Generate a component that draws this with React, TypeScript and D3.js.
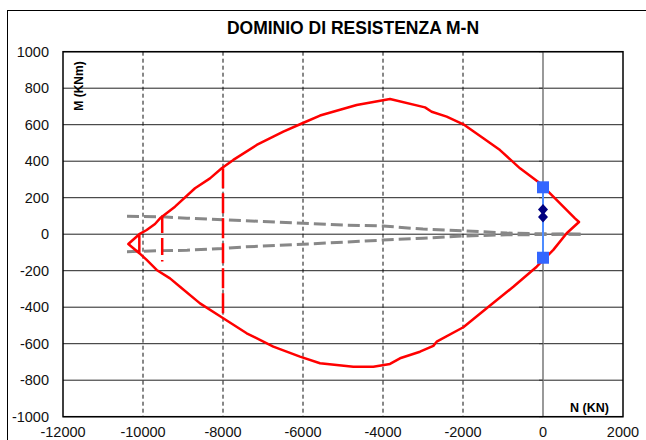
import * as d3 from "d3";

// N (KN), M (KNm) pairs
const domainPoints: [number, number][] = [
  [-10092, -104], [-10092, 0], [-9908, 23], [-9700, 56], [-9575, 87], [-9200, 151],
  [-8700, 252], [-8325, 306], [-8033, 361], [-7742, 407], [-7158, 489], [-6492, 562],
  [-6017, 608], [-5575, 650], [-4658, 708], [-3825, 741], [-2950, 695], [-2783, 671],
  [-2408, 644], [-1992, 602], [-1492, 526], [-1075, 461], [-575, 361], [-75, 279],
  [258, 206], [800, 87], [900, 67], [592, 5], [258, -86], [-158, -178], [-742, -288],
  [-1408, -406], [-1992, -510], [-2658, -589], [-2742, -612], [-3075, -644],
  [-3575, -680], [-3825, -711], [-4242, -726], [-4742, -726], [-5575, -707],
  [-6075, -671], [-6742, -616], [-7408, -543], [-8033, -455], [-8575, -379],
  [-9075, -288], [-9325, -242], [-9658, -196], [-9908, -141], [-10092, -104],
  [-10367, -54], [-10092, 0],
];

const limitA: [number, number][] = [[-8000, 361], [-8000, -455]];
const limitB: [number, number][] = [[-9520, 100], [-9520, -150]];

const grayUpper: [number, number][] = [
  [-10400, 98], [-9500, 95], [-8900, 88], [-8000, 79], [-7000, 70], [-6000, 60],
  [-5000, 50], [-4000, 45], [-3000, 28], [-2000, 19], [-900, 6], [0, 2], [950, 0],
];
const grayLower: [number, number][] = [
  [-10400, -96], [-9500, -90], [-8900, -88], [-8000, -78], [-7500, -70], [-6000, -55],
  [-5000, -44], [-4000, -32], [-3000, -22], [-2000, -10], [-900, -3], [0, -2], [950, 0],
];

const loadRange: [number, number][] = [[0, 257], [0, -129]];
const loadPoints: [number, number][] = [[0, 135], [0, 94]];

const xTicks = [-12000, -10000, -8000, -6000, -4000, -2000, 0, 2000];
const yTicks = [-1000, -800, -600, -400, -200, 0, 200, 400, 600, 800, 1000];

const W = 646;
const H = 440;
const plot = { left: 63, right: 623, top: 51.7, bottom: 416.7 };
const font = "'Liberation Sans', Arial, sans-serif";

export default function App() {
  const x = d3.scaleLinear().domain([-12000, 2000]).range([plot.left, plot.right]);
  const y = d3.scaleLinear().domain([-1000, 1000]).range([plot.bottom, plot.top]);
  const line = d3
    .line<[number, number]>()
    .x((d) => x(d[0]))
    .y((d) => y(d[1]));

  return (
    <div style={{ position: "fixed", left: 0, top: 0 }}>
      <svg width={W} height={H} style={{ display: "block", background: "#fff" }}>
        {/* chart border */}
        <rect x={7.5} y={10.5} width={700} height={500} fill="#fff" stroke="#000" strokeWidth={1} />

        <text x={353} y={34} textAnchor="middle" fontFamily={font} fontWeight="bold" fontSize={17.5}>
          DOMINIO DI RESISTENZA M-N
        </text>

        {/* horizontal grid */}
        {yTicks.map((t) => (
          <line key={"h" + t} x1={plot.left} x2={plot.right} y1={y(t)} y2={y(t)} stroke="#222" strokeWidth={1} />
        ))}
        {/* vertical grid */}
        {xTicks
          .filter((t) => t !== 0 && t !== -12000 && t !== 2000)
          .map((t) => (
            <line key={"v" + t} x1={x(t)} x2={x(t)} y1={plot.top} y2={plot.bottom} stroke="#111" strokeWidth={1} strokeDasharray="4,3" />
          ))}
        <line x1={x(0)} x2={x(0)} y1={plot.top} y2={plot.bottom} stroke="#808080" strokeWidth={1.6} />
        {yTicks.map((t) => (
          <line key={"k" + t} x1={x(0) - 4} x2={x(0)} y1={y(t)} y2={y(t)} stroke="#333" strokeWidth={1} />
        ))}

        {/* plot frame */}
        <rect x={plot.left} y={plot.top} width={plot.right - plot.left} height={plot.bottom - plot.top} fill="none" stroke="#000" strokeWidth={1.5} />

        {/* y tick labels */}
        {yTicks.map((t) => (
          <text key={"yl" + t} x={49} y={y(t)} dy="0.36em" textAnchor="end" fontFamily={font} fontSize={14.5} fill="#111">
            {t}
          </text>
        ))}
        {/* x tick labels */}
        {xTicks.map((t) => (
          <text key={"xl" + t} x={x(t)} y={437} textAnchor="middle" fontFamily={font} fontSize={14.5} fill="#111">
            {t}
          </text>
        ))}

        {/* gray dashed curves */}
        <path d={line(grayUpper) ?? ""} fill="none" stroke="#888" strokeWidth={3} strokeDasharray="12,5" />
        <path d={line(grayLower) ?? ""} fill="none" stroke="#888" strokeWidth={3} strokeDasharray="12,5" />

        {/* resistance domain */}
        <path d={line(domainPoints) ?? ""} fill="none" stroke="#ff0000" strokeWidth={2.5} strokeLinejoin="round" />
        <path d={line(limitA) ?? ""} fill="none" stroke="#ff0000" strokeWidth={2.5} strokeDasharray="20,5" />
        <path d={line(limitB) ?? ""} fill="none" stroke="#ff0000" strokeWidth={2.5} strokeDasharray="17,5" />

        {/* load range */}
        <path d={line(loadRange) ?? ""} fill="none" stroke="#4d8cff" strokeWidth={2} />
        {loadRange.map((d, i) => (
          <rect key={"sq" + i} x={x(d[0]) - 6} y={y(d[1]) - 6} width={12} height={12} fill="#3366ff" />
        ))}
        {loadPoints.map((d, i) => (
          <path
            key={"dm" + i}
            d={`M${x(d[0])},${y(d[1]) - 5.5}L${x(d[0]) + 5},${y(d[1])}L${x(d[0])},${y(d[1]) + 5.5}L${x(d[0]) - 5},${y(d[1])}Z`}
            fill="#000080"
          />
        ))}

        {/* axis titles */}
        <text transform="translate(83,86) rotate(-90)" textAnchor="middle" fontFamily={font} fontWeight="bold" fontSize={12}>
          M (KNm)
        </text>
        <text x={609} y={412} textAnchor="end" fontFamily={font} fontWeight="bold" fontSize={12.5}>
          N (KN)
        </text>
      </svg>
    </div>
  );
}
